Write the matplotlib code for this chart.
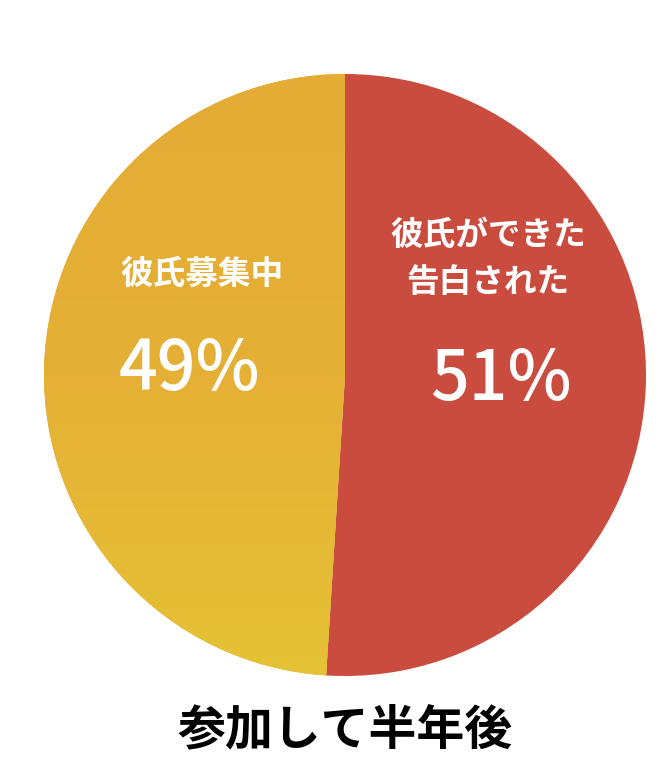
import numpy as np
import matplotlib.pyplot as plt
from matplotlib.colors import LinearSegmentedColormap

plt.rcParams['font.family'] = ['Noto Sans CJK JP', 'DejaVu Sans']

# data
labels = ['彼氏ができた\n告白された', '彼氏募集中']
values = [51, 49]
pct_labels = ['51%', '49%']
colors = ['#C94C3F', '#E4AD35']
title = '参加して半年後'

fig = plt.figure(figsize=(6.61, 7.76), dpi=100)
W, H = 661, 776
cx, cy, r = 345, 375, 301
ax = fig.add_axes([(cx - r) / W, (H - cy - r) / H, 2 * r / W, 2 * r / H])

wedges, _ = ax.pie(values, colors=colors, startangle=90, counterclock=False,
                   radius=1, wedgeprops=dict(linewidth=0))

# yellow slice gets a bit more yellow towards the bottom
grad = LinearSegmentedColormap.from_list('gold', ['#E4AC35', '#E5B035', '#E6C236'])
g = np.linspace(0, 1, 256).reshape(-1, 1)
im = ax.imshow(g, cmap=grad, extent=[-1, 1, -1, 1], origin='upper',
               aspect='auto', zorder=1.5)
im.set_clip_path(wedges[1])

ax.set_xlim(-1, 1)
ax.set_ylim(-1, 1)
ax.set_aspect('equal')
ax.axis('off')

# text positions (pixel coords of reference converted to data units)
def to_data(px, py):
    return (px - cx) / r, (cy - py) / r

x, y = to_data(488, 259)
ax.text(x, y, labels[0], color='white', fontsize=23.5, fontweight='bold',
        ha='center', va='center', linespacing=1.55, zorder=3)
x, y = to_data(501, 380)
ax.text(x, y, pct_labels[0], color='white', fontsize=49, fontweight='medium',
        ha='center', va='center', zorder=3)
x, y = to_data(202, 274)
ax.text(x, y, labels[1], color='white', fontsize=23.5, fontweight='bold',
        ha='center', va='center', zorder=3)
x, y = to_data(189, 370)
ax.text(x, y, pct_labels[1], color='white', fontsize=49, fontweight='medium',
        ha='center', va='center', zorder=3)

fig.text(345 / W, 1 - 730 / H, title, fontsize=34.5, fontweight='bold',
         ha='center', va='center', color='black')

fig.savefig('out.png', dpi=100)
